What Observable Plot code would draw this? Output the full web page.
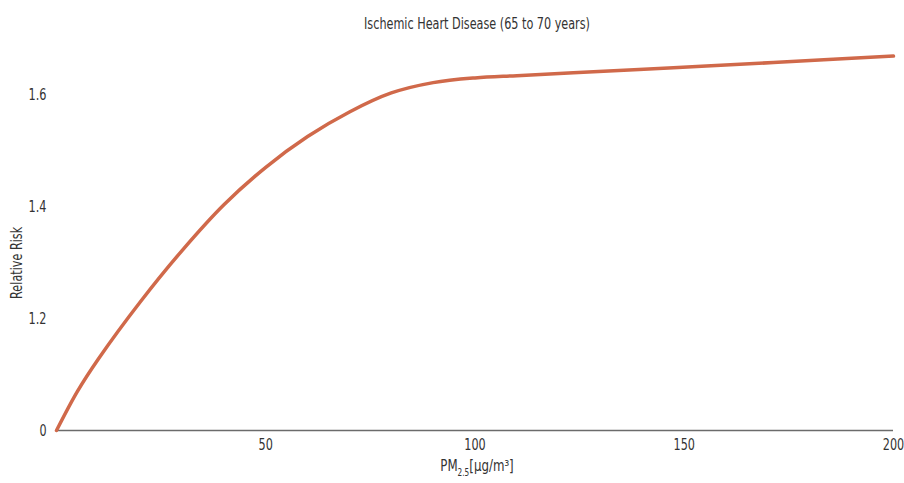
<!DOCTYPE html>
<html><head><meta charset="utf-8">
<script src="https://cdn.jsdelivr.net/npm/d3@7"></script>
<script src="https://cdn.jsdelivr.net/npm/@observablehq/plot@0.6"></script>
<style>
body{margin:0;background:#fff}
</style>
</head><body><div id="chart"></div>
<script>
const pm = [0, 5, 10, 20, 30, 40, 50, 60, 70, 80, 90, 100, 110, 123.5, 147.4, 171.3, 200];
const rr = [1.0, 1.07, 1.128, 1.23, 1.322, 1.404, 1.471, 1.526, 1.57, 1.604, 1.6225, 1.631, 1.635, 1.64, 1.649, 1.6585, 1.67];
const xTicks = [50, 100, 150, 200];
const yTicks = [1, 1.2, 1.4, 1.6];
const yTickLabels = ["0", "1.2", "1.4", "1.6"];
const title = "Ischemic Heart Disease (65 to 70 years)";
const yLabel = "Relative Risk";
const xLabel = "PM2.5[µg/m³]";

const data = pm.map((x, i) => ({x, y: rr[i]}));
const font = '"DejaVu Sans Condensed","Liberation Sans Narrow",sans-serif';

const chart = Plot.plot({
  width: 904, height: 483,
  marginTop: 50, marginBottom: 53, marginLeft: 56, marginRight: 11,
  style: {fontFamily: font, fontSize: "16px", color: "#333", background: "#fff"},
  x: {domain: [0, 200], ticks: xTicks, tickSize: 0, tickPadding: 8, label: null},
  y: {domain: [1, 1.68], ticks: yTicks, tickFormat: d => yTickLabels[yTicks.indexOf(d)], tickSize: 0, tickPadding: 10, label: null},
  marks: [
    Plot.ruleY([1], {stroke: "#6b6b6b", strokeWidth: 1.5}),
    Plot.line(data, {x: "x", y: "y", stroke: "#d0694a", strokeWidth: 3.5, curve: "catmull-rom"}),
    Plot.text([title], {frameAnchor: "top", dy: -33, dx: 2, fontSize: 16, fill: "#333"}),
    Plot.text([yLabel], {x: () => 0, y: () => 1.3, dx: -40, rotate: -90, fontSize: 16, fill: "#333"}),
    Plot.text([xLabel], {frameAnchor: "bottom", dy: 40, dx: 2, fontSize: 16, fill: "#333"})
  ]
});

d3.select(chart).selectAll("text").filter(function() { return this.textContent === xLabel; })
  .each(function() {
    const t = d3.select(this);
    t.text(null);
    t.append("tspan").text("PM");
    t.append("tspan").attr("font-size", 10).attr("dy", 5).text("2.5");
    t.append("tspan").attr("dy", -5).text("[µg/m³]");
  });

document.getElementById("chart").appendChild(chart);

// condense glyphs to match the narrow typeface of the reference
function condense(el, f) {
  const len = el.getComputedTextLength();
  if (len > 0) {
    el.setAttribute("textLength", (len * f).toFixed(1));
    el.setAttribute("lengthAdjust", "spacingAndGlyphs");
  }
}
d3.select(chart).selectAll("text").each(function() {
  const spans = this.querySelectorAll("tspan");
  if (spans.length > 1) spans.forEach(s => condense(s, 0.82));
  else condense(this, 0.78);
});
</script>
</body></html>
